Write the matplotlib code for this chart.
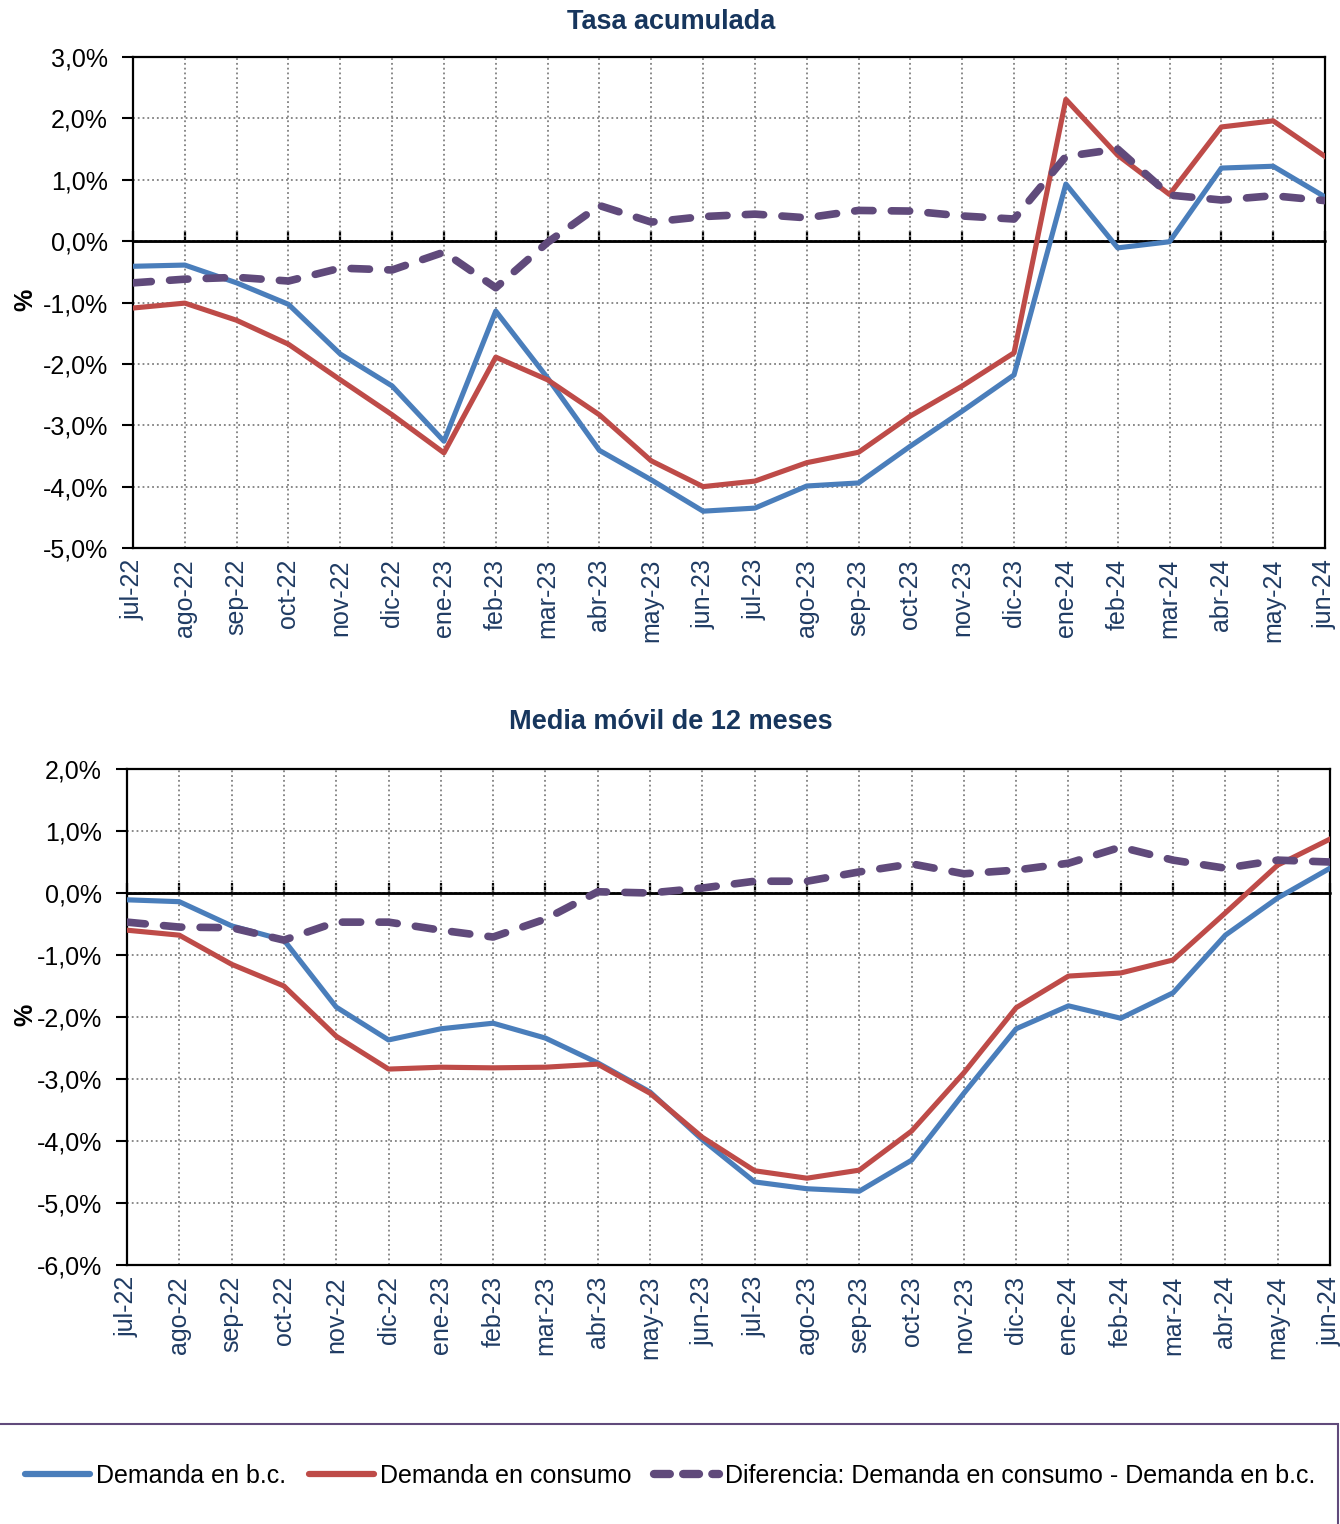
import matplotlib
matplotlib.use("Agg")
import matplotlib.pyplot as plt
from matplotlib.ticker import FuncFormatter, MultipleLocator
from matplotlib.lines import Line2D
from matplotlib.patches import Rectangle

plt.rcParams['font.family'] = ['Liberation Sans', 'DejaVu Sans']

meses = ["jul-22", "ago-22", "sep-22", "oct-22", "nov-22", "dic-22",
         "ene-23", "feb-23", "mar-23", "abr-23", "may-23", "jun-23",
         "jul-23", "ago-23", "sep-23", "oct-23", "nov-23", "dic-23",
         "ene-24", "feb-24", "mar-24", "abr-24", "may-24", "jun-24"]

# Tasa acumulada (%)
acum_bc = [-0.41, -0.39, -0.68, -1.03, -1.84, -2.36, -3.26, -1.14, -2.23, -3.41,
           -3.89, -4.40, -4.35, -3.99, -3.94, -3.34, -2.77, -2.18, 0.93, -0.11,
           -0.01, 1.19, 1.22, 0.72]
acum_consumo = [-1.09, -1.01, -1.29, -1.68, -2.26, -2.83, -3.45, -1.89, -2.26, -2.83,
                -3.58, -4.00, -3.91, -3.61, -3.44, -2.85, -2.36, -1.82, 2.31, 1.40,
                0.76, 1.86, 1.96, 1.38]
acum_dif = [-0.68, -0.62, -0.59, -0.65, -0.44, -0.47, -0.18, -0.76, -0.02, 0.58,
            0.31, 0.40, 0.44, 0.38, 0.50, 0.49, 0.41, 0.36, 1.38, 1.50,
            0.75, 0.67, 0.74, 0.66]

# Media móvil de 12 meses (%)
mm_bc = [-0.11, -0.14, -0.53, -0.76, -1.84, -2.37, -2.19, -2.10, -2.34, -2.74,
         -3.21, -3.98, -4.66, -4.77, -4.81, -4.31, -3.23, -2.19, -1.82, -2.02,
         -1.61, -0.68, -0.08, 0.40]
mm_consumo = [-0.60, -0.68, -1.15, -1.50, -2.31, -2.84, -2.81, -2.82, -2.81, -2.76,
              -3.23, -3.94, -4.48, -4.60, -4.47, -3.84, -2.90, -1.85, -1.34, -1.29,
              -1.08, -0.32, 0.45, 0.87]
mm_dif = [-0.47, -0.55, -0.56, -0.76, -0.47, -0.47, -0.60, -0.71, -0.42, 0.02,
          0.00, 0.08, 0.19, 0.19, 0.34, 0.47, 0.31, 0.37, 0.48, 0.74,
          0.53, 0.40, 0.53, 0.50]

AZUL = '#4a7ebb'
ROJO = '#be4b48'
MORADO = '#604a7b'
NAVY = '#17365d'
W, H = 1340, 1524

fig = plt.figure(figsize=(13.4, 15.24), dpi=100)

pct = FuncFormatter(lambda v, p: f"{v:.1f}%".replace('.', ','))


def panel(rect, bc, consumo, dif, ylim, titulo, title_y, ylabel_y):
    ax = fig.add_axes(rect)
    x = list(range(len(meses)))
    ax.plot(x, bc, color=AZUL, lw=3.7, zorder=3)
    ax.plot(x, consumo, color=ROJO, lw=3.7, zorder=4)
    ax.plot(x, dif, color=MORADO, lw=5.5, dashes=(2.4, 2.4),
            dash_capstyle='round', zorder=5)
    ax.axhline(0, color='black', lw=1.8, zorder=2)
    ax.set_xlim(0, len(meses) - 1)
    ax.set_ylim(*ylim)
    ax.yaxis.set_major_locator(MultipleLocator(1))
    ax.yaxis.set_major_formatter(pct)
    ax.set_xticks(x)
    ax.set_xticklabels(meses, rotation=90, color='#1f3b63', fontsize=18)
    ax.tick_params(axis='x', length=0, pad=8)
    ax.tick_params(axis='y', length=8, width=1.5, pad=10, labelsize=18)
    ax.grid(True, ls=':', color='#808080', lw=1.3)
    for s in ax.spines.values():
        s.set_color('black')
        s.set_linewidth(1.6)
    # marcas mensuales sobre la línea del cero
    zero = (0 - ylim[0]) / (ylim[1] - ylim[0])
    sec = ax.secondary_xaxis(zero)
    sec.set_xticks(x)
    sec.set_xticklabels([])
    sec.tick_params(length=7, width=1.6, direction='out')
    for s in sec.spines.values():
        s.set_linewidth(1.8)
    fig.text(0.5007, title_y, titulo, ha='center', va='center',
             fontsize=19.5, fontweight='bold', color=NAVY)
    fig.text(25 / W, ylabel_y, '%', rotation=90, ha='center', va='center',
             fontsize=18, fontweight='bold')
    return ax


panel([133 / W, 1 - 548 / H, 1192 / W, 491 / H], acum_bc, acum_consumo, acum_dif,
      (-5, 3), 'Tasa acumulada', 1 - 22 / H, 1 - 300 / H)
panel([127 / W, 1 - 1265 / H, 1203 / W, 496 / H], mm_bc, mm_consumo, mm_dif,
      (-6, 2), 'Media móvil de 12 meses', 1 - 722 / H, 1 - 1015 / H)

handles = [
    Line2D([], [], color=AZUL, lw=4.5, solid_capstyle='round'),
    Line2D([], [], color=ROJO, lw=4.5, solid_capstyle='round'),
    Line2D([], [], color=MORADO, lw=6, dashes=(1.9, 1.6), dash_capstyle='round'),
]
labels = ['Demanda en b.c.', 'Demanda en consumo',
          'Diferencia: Demanda en consumo - Demanda en b.c.']
fig.legend(handles, labels, loc='center', bbox_to_anchor=(0.5, 1 - 1476 / H),
           ncol=3, frameon=False, fontsize=18, handlelength=2.6,
           handletextpad=0.25, columnspacing=0.9)

fig.patches.append(Rectangle((-0.01, -0.01), 1.0085, 0.01 + 100 / H, fill=False,
                             edgecolor=MORADO, lw=1.5, transform=fig.transFigure))

fig.savefig('out.png', dpi=100)
